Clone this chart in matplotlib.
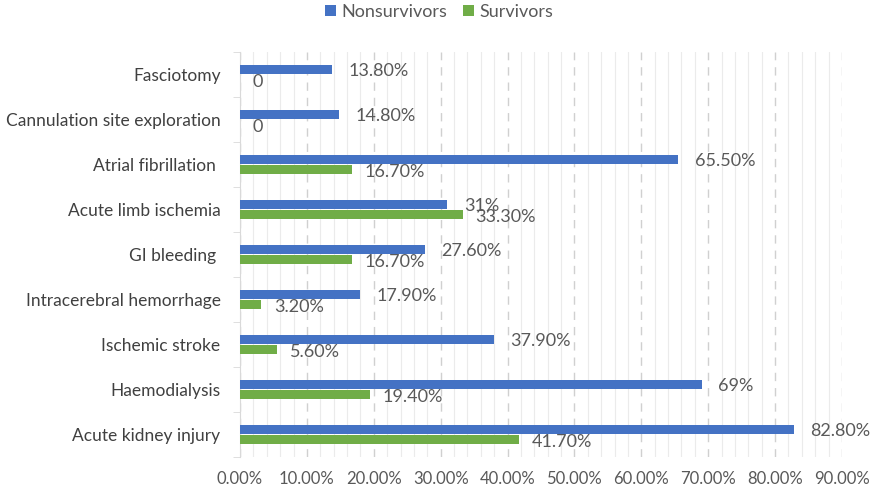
import matplotlib

matplotlib.use("Agg")

import matplotlib.pyplot as plt
import numpy as np
from matplotlib.ticker import FixedLocator, MultipleLocator

categories = [
    "Acute kidney injury",
    "Haemodialysis",
    "Ischemic stroke",
    "Intracerebral hemorrhage",
    "GI bleeding ",
    "Acute limb ischemia",
    "Atrial fibrillation ",
    "Cannulation site exploration",
    "Fasciotomy",
]
nonsurvivors = [82.8, 69.0, 37.9, 17.9, 27.6, 31.0, 65.5, 14.8, 13.8]
survivors = [41.7, 19.4, 5.6, 3.2, 16.7, 33.3, 16.7, 0.0, 0.0]
nonsurvivor_labels = ["82.80%", "69%", "37.90%", "17.90%", "27.60%", "31%", "65.50%", "14.80%", "13.80%"]
survivor_labels = ["41.70%", "19.40%", "5.60%", "3.20%", "16.70%", "33.30%", "16.70%", "0", "0"]

blue = "#4472C4"
green = "#70AD47"
text_color = "#595959"

plt.rcParams["font.family"] = ["Lato", "DejaVu Sans"]

fig = plt.figure(figsize=(8.78, 4.95), dpi=100)
ax = fig.add_axes([240 / 878, 1 - 457 / 495, (842 - 240) / 878, (457 - 52) / 495])

y = np.arange(len(categories))
height = 0.2
ax.barh(y + 0.11, nonsurvivors, height=height, color=blue, label="Nonsurvivors", zorder=3)
ax.barh(y - 0.11, survivors, height=height, color=green, label="Survivors", zorder=3)

for yi, value, label in zip(y, nonsurvivors, nonsurvivor_labels):
    ax.annotate(label, (value, yi + 0.11), xytext=(12, -1), textcoords="offset points",
                ha="left", va="center", fontsize=13, color=text_color)
for yi, value, label in zip(y, survivors, survivor_labels):
    ax.annotate(label, (value, yi - 0.11), xytext=(9, -2), textcoords="offset points",
                ha="left", va="center", fontsize=13, color=text_color)

ax.set_xlim(0, 90)
ax.set_ylim(-0.5, len(categories) - 0.5)
ax.xaxis.set_minor_locator(MultipleLocator(2))
ax.set_xticks(np.arange(0, 91, 10))
ax.set_xticklabels([f"{v:.2f}%" for v in np.arange(0, 91, 10)])
ax.grid(which="minor", axis="x", color="#EBEBEB", linewidth=0.8, zorder=0)
ax.grid(which="major", axis="x", color="#D0D0D0", linewidth=1.0, linestyle=(0, (6, 5)), zorder=1)

ax.set_yticks(y)
ax.set_yticklabels(categories)
ax.yaxis.set_minor_locator(FixedLocator(np.arange(-0.5, len(categories), 1.0)))
ax.tick_params(axis="y", which="major", length=0, pad=14, labelsize=12.5, labelcolor="#404040")
ax.tick_params(axis="y", which="minor", length=5, color="#D9D9D9", direction="out")
ax.tick_params(axis="x", which="both", length=0, pad=10, labelsize=12, labelcolor=text_color)

for side in ["top", "right", "bottom"]:
    ax.spines[side].set_visible(False)
ax.spines["left"].set_color("#D9D9D9")

handles, labels = ax.get_legend_handles_labels()
fig.legend(handles, labels, loc="upper center", bbox_to_anchor=(0.5, 1.025), ncol=2, frameon=False,
           fontsize=13, labelcolor=text_color, handlelength=0.6, handleheight=0.6,
           handletextpad=0.3, columnspacing=0.9)

fig.savefig("out.png", dpi=100)
